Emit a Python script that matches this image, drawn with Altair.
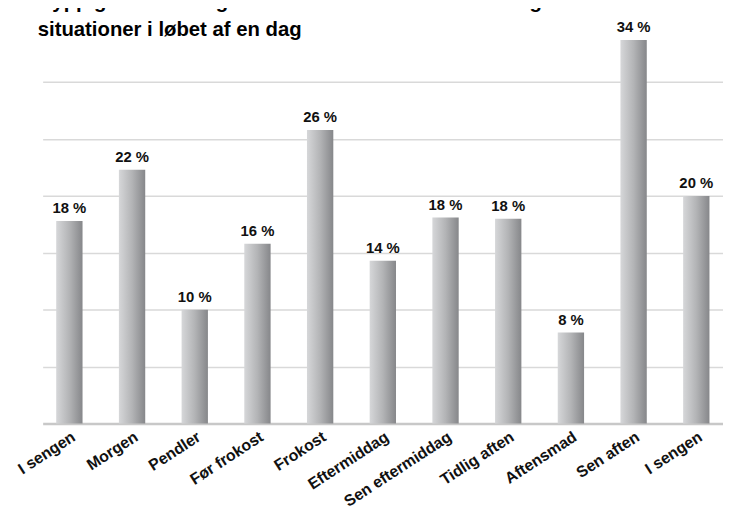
import altair as alt
import pandas as pd

categories = ["I sengen", "Morgen", "Pendler", "Før frokost", "Frokost", "Eftermiddag",
              "Sen eftermiddag", "Tidlig aften", "Aftensmad", "Sen aften", "I sengen"]
values = [17.8, 22.3, 10, 15.8, 25.8, 14.3, 18.1, 18, 8, 33.7, 20]
grid_values = [5, 10, 15, 20, 25, 30]
title_lines = ["Hyppigheden i brugen af sociale netværk i forskellige",
               "situationer i løbet af en dag"]

df = pd.DataFrame({"idx": list(range(len(categories))), "cat": categories, "value": values})
label_js = "[" + ",".join("'" + c + "'" for c in categories) + "]"

FONT = "Liberation Sans"

x_enc = alt.X("idx:O",
              scale=alt.Scale(paddingInner=0.58, paddingOuter=0.216),
              axis=alt.Axis(title=None, labelExpr=label_js + "[datum.value]",
                            labelAngle=-33, labelFontSize=16, labelFontWeight="bold",
                            labelFont=FONT, labelColor="#111111", labelPadding=5,
                            ticks=False, domainColor="#c8c8c8", domainWidth=2.5,
                            grid=False))
y_enc = alt.Y("value:Q",
              scale=alt.Scale(domain=[0, 35], nice=False, zero=True),
              axis=alt.Axis(title=None, labels=False, ticks=False, domain=False,
                            values=grid_values, gridColor="#d9d9d9", gridWidth=1.5))

gradient = alt.Gradient(
    gradient="linear", x1=0, x2=1, y1=0, y2=0,
    stops=[alt.GradientStop(color="#d6d7d9", offset=0),
           alt.GradientStop(color="#b3b4b6", offset=0.5),
           alt.GradientStop(color="#86878a", offset=1)])

bars = alt.Chart(df).mark_bar(color=gradient).encode(x=x_enc, y=y_enc)

texts = alt.Chart(df).transform_calculate(
    lab="format(datum.value, '.0f') + ' %'"
).mark_text(dy=-8, baseline="alphabetic", font=FONT, fontSize=15,
            fontWeight="bold", color="#111111").encode(
    x=alt.X("idx:O"), y=alt.Y("value:Q"), text="lab:N")

chart = alt.layer(bars, texts).properties(
    width=687, height=402,
    autosize=alt.AutoSizeParams(type="none"),
    padding={"left": 35, "top": 15, "right": 0, "bottom": 95},
    title=alt.TitleParams(text=title_lines, anchor="start", frame="group",
                          font=FONT, fontSize=20.5, fontWeight="bold", color="#000000",
                          lineHeight=28, baseline="alphabetic", offset=0, dx=-5, dy=36)
).configure_view(stroke=None)

chart.save("out.html", embed_options={"renderer": "svg", "actions": False})
